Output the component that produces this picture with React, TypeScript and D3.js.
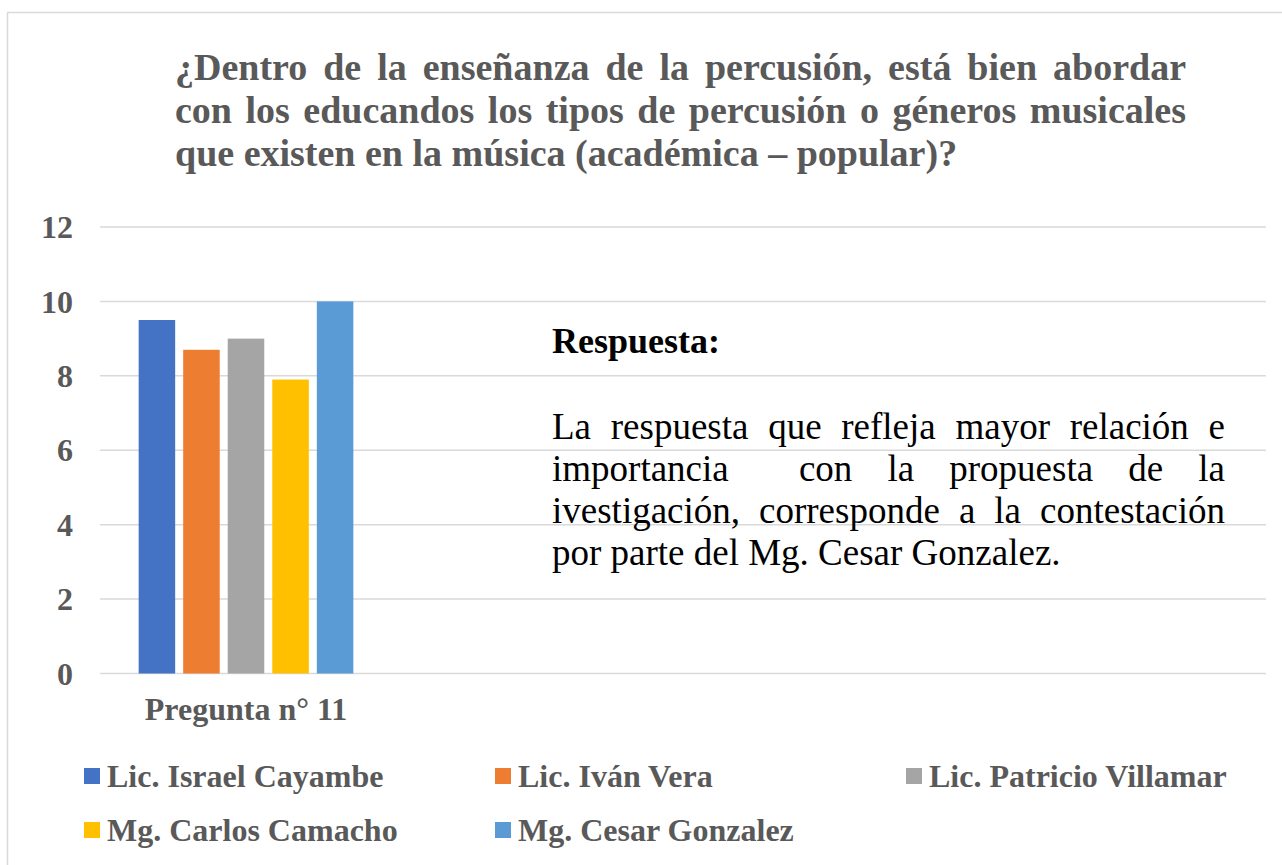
import { useEffect, useRef } from "react";
import * as d3 from "d3";

const categories = ["Pregunta n° 11"];
const series = [
  "Lic. Israel Cayambe",
  "Lic. Iván Vera",
  "Lic. Patricio Villamar",
  "Mg. Carlos Camacho",
  "Mg. Cesar Gonzalez",
];
const values = [9.5, 8.7, 9.0, 7.9, 10];
const colors = ["#4472C4", "#ED7D31", "#A5A5A5", "#FFC000", "#5B9BD5"];
const yTicks = [0, 2, 4, 6, 8, 10, 12];

const titleLines = [
  "¿Dentro de la enseñanza de la percusión, está bien abordar",
  "con los educandos los tipos de percusión o géneros musicales",
  "que existen en la música (académica – popular)?",
];
const noteHeading = "Respuesta:";
const noteLines = [
  "La respuesta que refleja mayor relación e",
  "importancia  con la propuesta de la",
  "ivestigación, corresponde a la contestación",
  "por parte del Mg. Cesar Gonzalez.",
];

const W = 1282;
const H = 865;
const FONT = "'Liberation Serif', 'Times New Roman', serif";
const GREY = "#595959";

export default function App() {
  const ref = useRef<SVGSVGElement>(null);

  const y = d3.scaleLinear().domain([0, 12]).range([673.5, 227]);
  const x0 = d3.scaleBand().domain(categories).range([100, 392]).paddingInner(0).paddingOuter(0.18);
  const x1 = d3.scaleBand().domain(series).range([0, x0.bandwidth()]).paddingInner(0.18);

  useEffect(() => {
    // justify lines by spreading word spacing
    d3.select(ref.current)
      .selectAll<SVGTextElement, unknown>("text.justify")
      .each(function () {
        const t = d3.select(this);
        const target = +t.attr("data-width");
        const natural = this.getComputedTextLength();
        const spaces = (t.text().match(/ /g) || []).length;
        if (spaces) t.attr("word-spacing", (target - natural) / spaces);
      });
  }, []);

  const legendCols = [84, 495, 906];
  const legendRows = [787, 841];

  return (
    <svg
      ref={ref}
      width={W}
      height={H}
      style={{ position: "absolute", left: 0, top: 0, background: "#fff" }}
      fontFamily={FONT}
    >
      <rect x={7.5} y={12.5} width={W + 10} height={H + 10} fill="#fff" stroke="#d9d9d9" strokeWidth={1.5} />

      {/* title */}
      {titleLines.map((line, i) => (
        <text
          key={i}
          className={i < titleLines.length - 1 ? "justify" : ""}
          data-width={1011}
          x={175}
          y={80 + i * 43}
          fontSize={38}
          fontWeight="bold"
          fill={GREY}
          style={{ whiteSpace: "pre" }}
        >
          {line}
        </text>
      ))}

      {/* gridlines */}
      {yTicks.map((t) => (
        <line key={t} x1={100} x2={1266} y1={y(t)} y2={y(t)} stroke="#d9d9d9" strokeWidth={1.5} />
      ))}
      {yTicks.map((t) => (
        <text
          key={"l" + t}
          x={73}
          y={y(t)}
          dy="0.35em"
          textAnchor="end"
          fontSize={32}
          fontWeight="bold"
          fill={GREY}
        >
          {t}
        </text>
      ))}

      {/* bars */}
      {categories.map((c) => (
        <g key={c} transform={`translate(${x0(c)},0)`}>
          {series.map((s, i) => (
            <rect
              key={s}
              x={x1(s)}
              y={y(values[i])}
              width={x1.bandwidth()}
              height={y(0) - y(values[i])}
              fill={colors[i]}
            />
          ))}
          <text
            x={x0.bandwidth() / 2}
            y={720}
            textAnchor="middle"
            fontSize={32}
            fontWeight="bold"
            fill={GREY}
          >
            {c}
          </text>
        </g>
      ))}

      {/* answer box */}
      <text x={552} y={353} fontSize={36} fontWeight="bold" fill="#000">
        {noteHeading}
      </text>
      {noteLines.map((line, i) => (
        <text
          key={i}
          className={i < noteLines.length - 1 ? "justify" : ""}
          data-width={673}
          x={552}
          y={439 + i * 42}
          fontSize={37}
          fill="#000"
          style={{ whiteSpace: "pre" }}
        >
          {line}
        </text>
      ))}

      {/* legend */}
      {series.map((s, i) => {
        const lx = legendCols[i % 3];
        const ly = legendRows[Math.floor(i / 3)];
        return (
          <g key={s}>
            <rect x={lx} y={ly - 19} width={16} height={16} fill={colors[i]} />
            <text x={lx + 23} y={ly} fontSize={32} fontWeight="bold" fill={GREY}>
              {s}
            </text>
          </g>
        );
      })}
    </svg>
  );
}
